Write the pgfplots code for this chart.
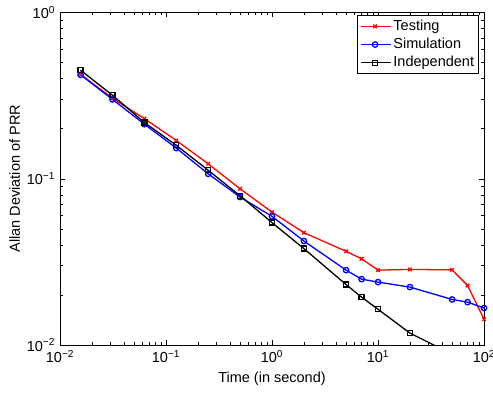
\documentclass[border=0pt]{standalone}
\usepackage{fontspec}
\setmainfont{Liberation Sans}
\usepackage{pgfplots}
\pgfplotsset{compat=1.18}
\def\ff{\fontsize{14.5}{17}\selectfont}
\begin{document}
\ff
\begin{tikzpicture}
\begin{axis}[
  xmode=log, ymode=log,
  scale only axis, width=424pt, height=332.5pt,
  xmin=0.01, xmax=100, ymin=0.01, ymax=1,
  xtick={0.01,0.1,1,10,100},
  xticklabels={10\textsuperscript{−2},10\textsuperscript{−1},10\textsuperscript{0},10\textsuperscript{1},10\textsuperscript{2}},
  ytick={0.01,0.1,1},
  yticklabels={10\textsuperscript{−2},10\textsuperscript{−1},10\textsuperscript{0}},
  tick pos=both, tick align=inside,
  major tick length=5pt, minor tick length=3pt,
  every tick/.style={black, line width=0.5pt},
  axis line style={line width=0.9pt},
  ticklabel style={font=\ff},
  label style={font=\ff},
  xlabel={Time (in second)},
  ylabel={Allan Deviation of PRR},
  ylabel style={yshift=-3pt},
  clip=true,
  legend style={at={(0.988,0.992)}, anchor=north east, draw=black, line width=0.7pt, font=\ff, row sep=1.5pt, inner sep=2.5pt},
  legend cell align=left,
  legend image code/.code={\draw[mark repeat=2,mark phase=2] plot coordinates {(0cm,0cm) (0.5cm,0cm) (1.05cm,0cm)};},
]
\addplot[red, line width=1.3pt, mark=x, mark size=2.5pt, mark options={solid}] coordinates {
(0.015625,0.425) (0.03125,0.305) (0.0625,0.23) (0.125,0.17) (0.25,0.123) (0.5,0.087)
(1,0.063) (2,0.0474) (5,0.0366) (7,0.033) (10,0.0282) (20,0.0285) (50,0.0283) (70,0.0228) (100,0.0143)};
\addlegendentry{Testing}
\addplot[blue, line width=1.3pt, mark=o, mark size=2.7pt, mark options={solid}] coordinates {
(0.015625,0.422) (0.03125,0.30) (0.0625,0.213) (0.125,0.153) (0.25,0.107) (0.5,0.0776)
(1,0.0594) (2,0.0422) (5,0.0282) (7,0.0249) (10,0.0239) (20,0.0223) (50,0.0188) (70,0.0181) (100,0.0167)};
\addlegendentry{Simulation}
\addplot[black, line width=1.3pt, mark=square, mark size=2.5pt, mark options={solid}] coordinates {
(0.015625,0.45) (0.03125,0.318) (0.0625,0.218) (0.125,0.159) (0.25,0.1125) (0.5,0.079)
(1,0.0545) (2,0.038) (5,0.0231) (7,0.0194) (10,0.0164) (20,0.0118) (50,0.0088)};
\addlegendentry{Independent}
\end{axis}
\pgfresetboundingbox
\path (-60pt,-47pt) rectangle (433pt,345pt);
\end{tikzpicture}
\end{document}
